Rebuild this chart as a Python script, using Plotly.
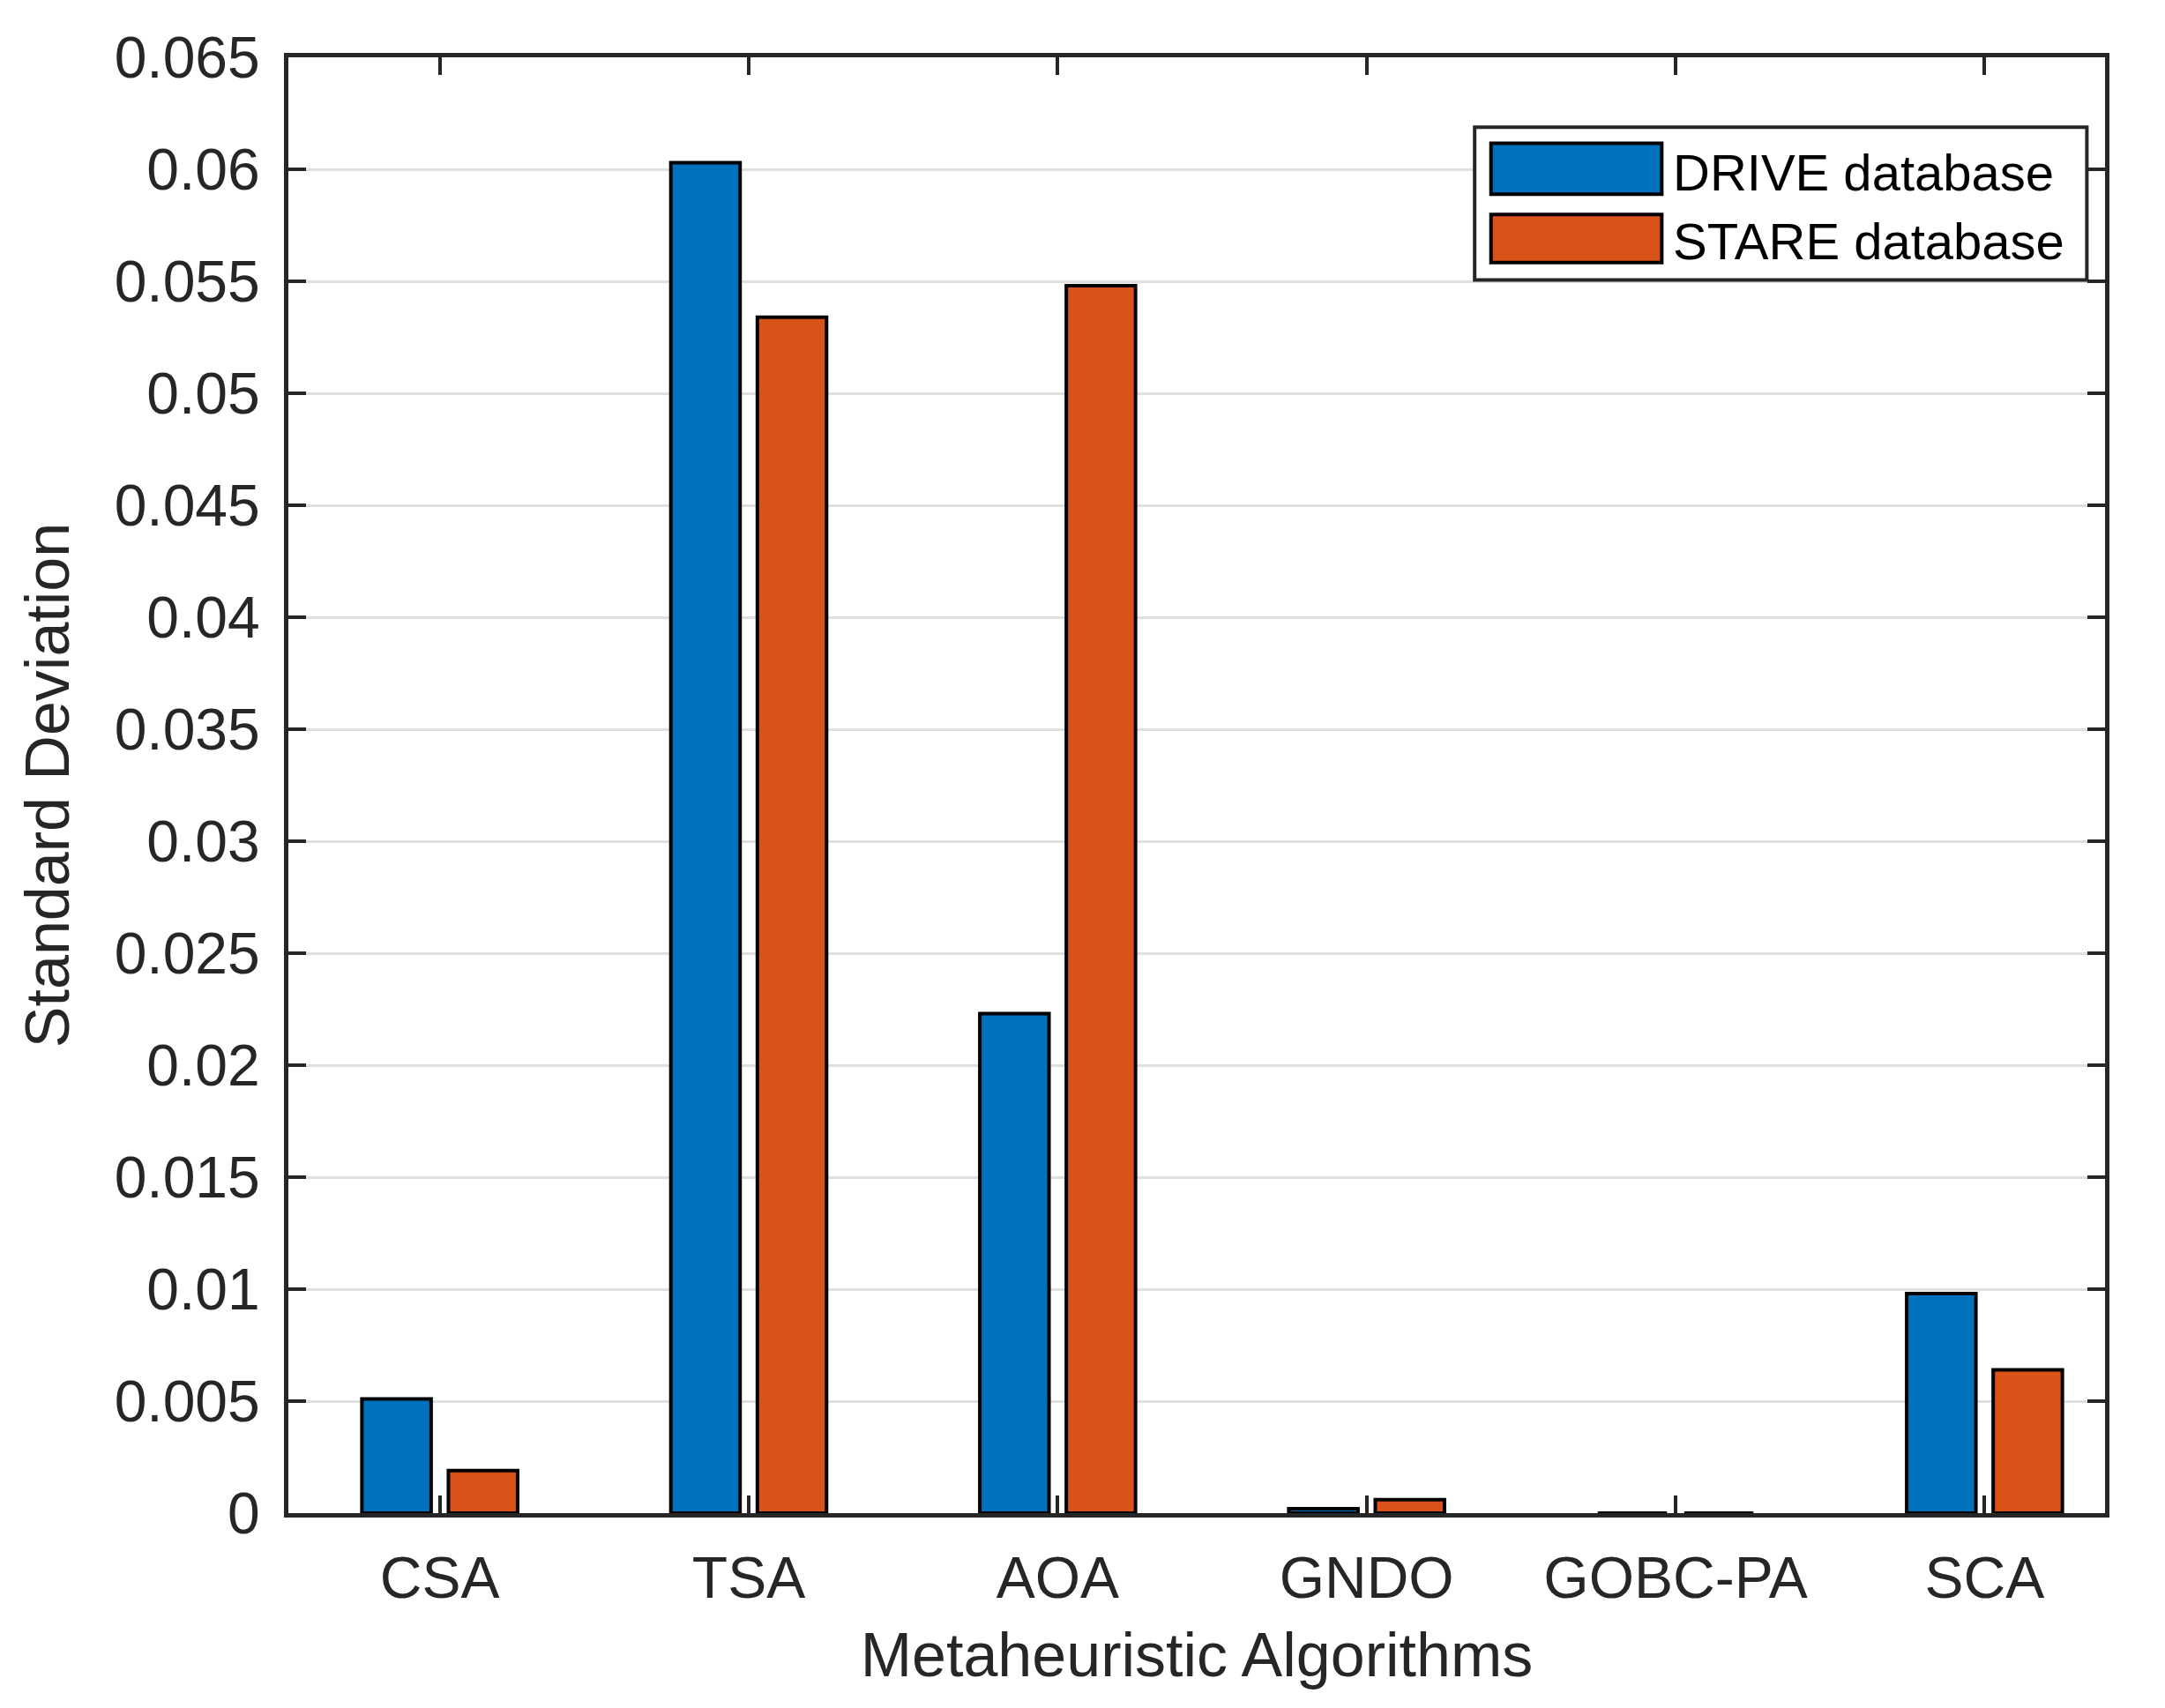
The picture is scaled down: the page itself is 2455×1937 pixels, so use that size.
import plotly.graph_objects as go

# data
algorithms = ['CSA', 'TSA', 'AOA', 'GNDO', 'GOBC-PA', 'SCA']
drive_std = [0.0051, 0.0603, 0.0223, 0.0002, 0.0, 0.0098]
stare_std = [0.0019, 0.0534, 0.0548, 0.0006, 0.0, 0.0064]
series_names = ['DRIVE database', 'STARE database']
y_tick_vals = [0, 0.005, 0.01, 0.015, 0.02, 0.025, 0.03, 0.035,
               0.04, 0.045, 0.05, 0.055, 0.06, 0.065]
y_tick_text = ['0', '0.005', '0.01', '0.015', '0.02', '0.025', '0.03', '0.035',
               '0.04', '0.045', '0.05', '0.055', '0.06', '0.065']

BLUE = '#0072BD'
ORANGE = '#D95319'
AXIS = '#262626'
FONT = 'Arial, Liberation Sans, sans-serif'

fig = go.Figure()
for name, vals, col in [(series_names[0], drive_std, BLUE),
                        (series_names[1], stare_std, ORANGE)]:
    fig.add_trace(go.Bar(
        x=algorithms, y=vals, name=name,
        marker=dict(color=col, line=dict(color='black', width=4)),
        showlegend=False,
    ))

axis_common = dict(
    showline=True, linecolor=AXIS, linewidth=5, mirror='ticks',
    ticks='inside', tickcolor=AXIS, tickwidth=4, ticklen=20,
    tickfont=dict(family=FONT, size=66, color=AXIS),
    zeroline=False,
)

fig.update_xaxes(
    **axis_common,
    range=[-0.49, 5.39],
    showgrid=False,
    ticklabelstandoff=12,
    title=dict(text='Metaheuristic Algorithms', standoff=28,
               font=dict(family=FONT, size=70, color=AXIS)),
)
fig.update_yaxes(
    **axis_common,
    range=[0, 0.065],
    tickvals=y_tick_vals, ticktext=y_tick_text,
    showgrid=True, gridcolor='#dfdfdf', gridwidth=3,
    ticklabelstandoff=14,
    title=dict(text='Standard Deviation', standoff=30,
               font=dict(family=FONT, size=70, color=AXIS)),
)

# MATLAB-style legend drawn by hand (large swatches)
fig.add_shape(type='rect', xref='paper', yref='paper',
              x0=0.653, x1=0.990, y0=0.847, y1=0.952,
              line=dict(color=AXIS, width=4), fillcolor='white', layer='above')
swatches = [(0.906, 0.941, BLUE, 0.921), (0.859, 0.892, ORANGE, 0.874)]
for (y0, y1, col, ty), label in zip(swatches, series_names):
    fig.add_shape(type='rect', xref='paper', yref='paper',
                  x0=0.662, x1=0.756, y0=y0, y1=y1,
                  line=dict(color='black', width=4), fillcolor=col, layer='above')
    fig.add_annotation(xref='paper', yref='paper', x=0.761, y=ty,
                       text=label, showarrow=False, xanchor='left', yanchor='middle',
                       font=dict(family=FONT, size=58, color='black'))

fig.update_layout(
    width=2455, height=1937,
    margin=dict(l=319, r=76, t=57, b=229),
    paper_bgcolor='white', plot_bgcolor='white',
    barmode='group', bargap=0.44, bargroupgap=0.2,
    font=dict(family=FONT, color=AXIS),
)

fig.write_html('out.html')
